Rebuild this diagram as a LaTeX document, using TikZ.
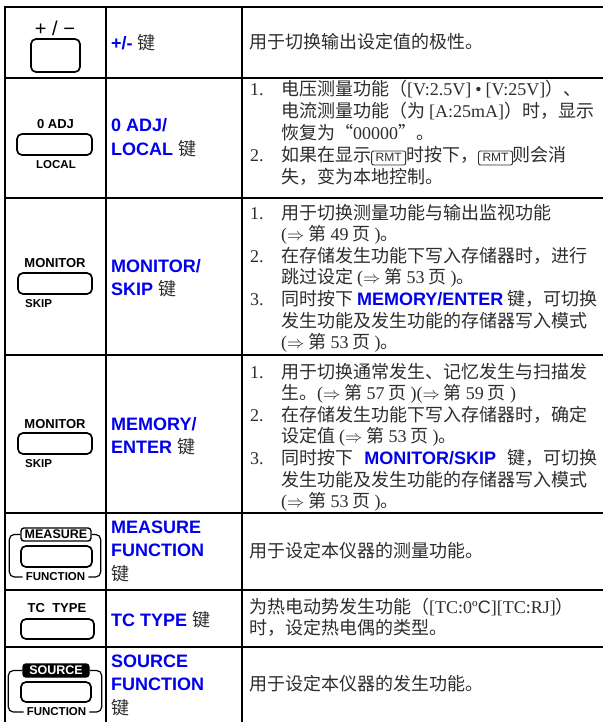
\documentclass[tikz,border=0pt]{standalone}
\usepackage{fontspec}
\setmainfont{Liberation Serif}
\setsansfont{Liberation Sans}
\newfontfamily\cjk{Noto Sans CJK SC}
\XeTeXlinebreaklocale "zh"
\XeTeXlinebreakskip=0pt plus 3pt
\usepackage{tikz}

\definecolor{keyblue}{RGB}{0,0,235}
\definecolor{bodygray}{RGB}{45,45,45}

\newcommand\tm[1]{{\rmfamily #1}}
\newcommand\kname[1]{{\sffamily\bfseries\color{keyblue}#1}}
\newcommand\jian{{\mdseries\cjk\color{bodygray}键}}
\newcommand\pg[1]{\tm{(}$\Rightarrow$ 第 \tm{#1} 页 \tm{)}}
\newcommand\jline[2][316pt]{\makebox[#1][s]{#2}}
\newcommand\rmt{\tikz[baseline=(rk.base)]\node[rmtkey] (rk) {RMT};}

\tikzset{
  tblline/.style={line width=2.6pt},
  keybtn/.style={draw, rounded corners=5pt, line width=1.7pt, inner sep=0pt},
  keylbl/.style={inner sep=0pt, font=\sffamily\bfseries\fontsize{13}{13}\selectfont},
  sublbl/.style={inner sep=0pt, font=\sffamily\bfseries\fontsize{11.5}{11.5}\selectfont},
  tagbox/.style={draw, rounded corners=3pt, line width=1.4pt, inner sep=0pt,
    font=\sffamily\bfseries\fontsize{12.5}{12.5}\selectfont},
  bracket/.style={rounded corners=5pt, line width=1.2pt},
  keyname/.style={anchor=base west, inner sep=0pt, align=left, text=keyblue,
    font=\sffamily\bfseries\fontsize{18}{23.5}\selectfont},
  desc/.style={anchor=base west, inner sep=0pt, align=left, text=bodygray,
    font=\cjk\fontsize{18}{21.6}\selectfont},
  rmtkey/.style={draw, rounded corners=2pt, line width=0.9pt, inner xsep=4pt,
    inner ysep=0pt, text height=11pt, text depth=3pt,
    font=\sffamily\fontsize{12}{12}\selectfont},
}

\begin{document}
\begin{tikzpicture}[x=1pt, y=-1pt]
        \useasboundingbox (0, 0) rectangle (603, 722);

        \draw[tblline] (5, 722) -- (5, 7) -- (603, 7);
        \draw[tblline] (106, 7) -- (106, 722);
        \draw[tblline] (242, 7) -- (242, 722);
        \draw[tblline] (5, 78) -- (603, 78);
        \draw[tblline] (5, 198) -- (603, 198);
        \draw[tblline] (5, 355) -- (603, 355);
        \draw[tblline] (5, 513) -- (603, 513);
        \draw[tblline] (5, 590) -- (603, 590);
        \draw[tblline] (5, 647) -- (603, 647);

        \draw (55, 28) node[inner sep=0pt, font=\sffamily\fontsize{20}{20}\selectfont] (pmlbl) {+ / −};
        \draw (55.5, 55.5) node[keybtn, minimum width=49pt, minimum height=33pt] (pmkey) {};

        \draw (55.5, 124.5) node[keylbl] (adjlbl) {0 ADJ};
        \draw (54.5, 144.5) node[keybtn, minimum width=75pt, minimum height=21pt] (adjkey) {};
        \draw (56, 165) node[sublbl] (loclbl) {LOCAL};

        \draw (55, 263.5) node[keylbl] (monlbl) {MONITOR};
        \draw (55, 283.5) node[keybtn, minimum width=74pt, minimum height=21pt] (monkey) {};
        \draw (25, 304) node[sublbl, anchor=west] (skiplbl) {SKIP};

        \draw (55, 424) node[keylbl] (memlbl) {MONITOR};
        \draw (55, 443.5) node[keybtn, minimum width=74pt, minimum height=21pt] (memkey) {};
        \draw (25, 463.5) node[sublbl, anchor=west] (entlbl) {SKIP};

        \draw (56, 534.5) node[tagbox, minimum width=70pt, minimum height=13pt] (meastag) {MEASURE};
        \draw (56.5, 556.5) node[keybtn, minimum width=71pt, minimum height=21pt] (measkey) {};
        \draw (55.5, 577) node[sublbl, inner xsep=3pt] (measfun) {FUNCTION};
        \draw[bracket] (meastag.west) -- ++(-11, 0) |- (measfun.west);
        \draw[bracket] (meastag.east) -- ++(9, 0) |- (measfun.east);

        \draw (57, 608.5) node[keylbl] (tclbl) {TC\ \ TYPE};
        \draw (57.5, 629) node[keybtn, minimum width=73pt, minimum height=20pt] (tckey) {};

        \draw (56, 670.5) node[tagbox, fill=black, text=white, minimum width=66pt, minimum height=13pt] (srctag) {SOURCE};
        \draw (56, 692) node[keybtn, minimum width=70pt, minimum height=20pt] (srckey) {};
        \draw (56.5, 712) node[sublbl, inner xsep=3pt] (srcfun) {FUNCTION};
        \draw[bracket] (srctag.west) -- ++(-14, 0) |- (srcfun.west);
        \draw[bracket] (srctag.east) -- ++(12, 0) |- (srcfun.east);

        \draw (111, 50) node[keyname] (pmname) {+/- \jian};
        \draw (111, 155.5) node[keyname] (adjname) {0 ADJ/\\LOCAL \jian};
        \draw (111, 295.5) node[keyname] (monname) {MONITOR/\\SKIP \jian};
        \draw (111, 453.5) node[keyname] (memname) {MEMORY/\\ENTER \jian};
        \draw (111, 580) node[keyname] (measname) {MEASURE\\FUNCTION\\\jian};
        \draw (111, 626) node[keyname] (tcname) {TC TYPE \jian};
        \draw (111, 714) node[keyname] (srcname) {SOURCE\\FUNCTION\\\jian};

        \draw (249, 49) node[desc] (pmdesc) {用于切换输出设定值的极性。};

        \draw (250, 96) node[desc] (adjnum1) {\tm{1.}};
        \draw (281, 139.2) node[desc] (adjdesc1) {\jline{电压测量功能（\tm{[V:2.5V]\hspace{4pt}•\hspace{4pt}[V:25V]}）、}\\\jline{电流测量功能（为\hspace{4pt}\tm{[A:25mA]}）时，显示}\\恢复为“\tm{00000}”。};
        \draw (250, 162) node[desc] (adjnum2) {\tm{2.}};
        \draw (281, 183.6) node[desc] (adjdesc2) {\jline{如果在显示\rmt 时按下，\rmt 则会消}\\失，变为本地控制。};

        \draw (250, 219) node[desc] (monnum1) {\tm{1.}};
        \draw (281, 240.6) node[desc] (mondesc1) {用于切换测量功能与输出监视功能\\\pg{49}。};
        \draw (250, 262.2) node[desc] (monnum2) {\tm{2.}};
        \draw (281, 283.8) node[desc] (mondesc2) {\jline{在存储发生功能下写入存储器时，进行}\\跳过设定 \pg{53}。};
        \draw (250, 305.4) node[desc] (monnum3) {\tm{3.}};
        \draw (281, 348.6) node[desc] (mondesc3) {\jline{同时按下 \kname{MEMORY/ENTER} 键，可切换}\\\jline{发生功能及发生功能的存储器写入模式}\\\pg{53}。};

        \draw (250, 378) node[desc] (memnum1) {\tm{1.}};
        \draw (281, 399.6) node[desc] (memdesc1) {\jline{用于切换通常发生、记忆发生与扫描发}\\生。\pg{57}\pg{59}};
        \draw (250, 421.2) node[desc] (memnum2) {\tm{2.}};
        \draw (281, 442.8) node[desc] (memdesc2) {\jline{在存储发生功能下写入存储器时，确定}\\设定值 \pg{53}。};
        \draw (250, 464.4) node[desc] (memnum3) {\tm{3.}};
        \draw (281, 507.6) node[desc] (memdesc3) {\jline{同时按下 \kname{MONITOR/SKIP} 键，可切换}\\\jline{发生功能及发生功能的存储器写入模式}\\\pg{53}。};

        \draw (249, 557) node[desc] (measdesc) {用于设定本仪器的测量功能。};
        \draw (249, 634.6) node[desc] (tcdesc) {\jline[348pt]{为热电动势发生功能（\tm{[TC:0º}{\sffamily C}\tm{][TC:RJ]}）}\\时，设定热电偶的类型。};
        \draw (249, 690) node[desc] (srcdesc) {用于设定本仪器的发生功能。};
      \end{tikzpicture}
\end{document}
